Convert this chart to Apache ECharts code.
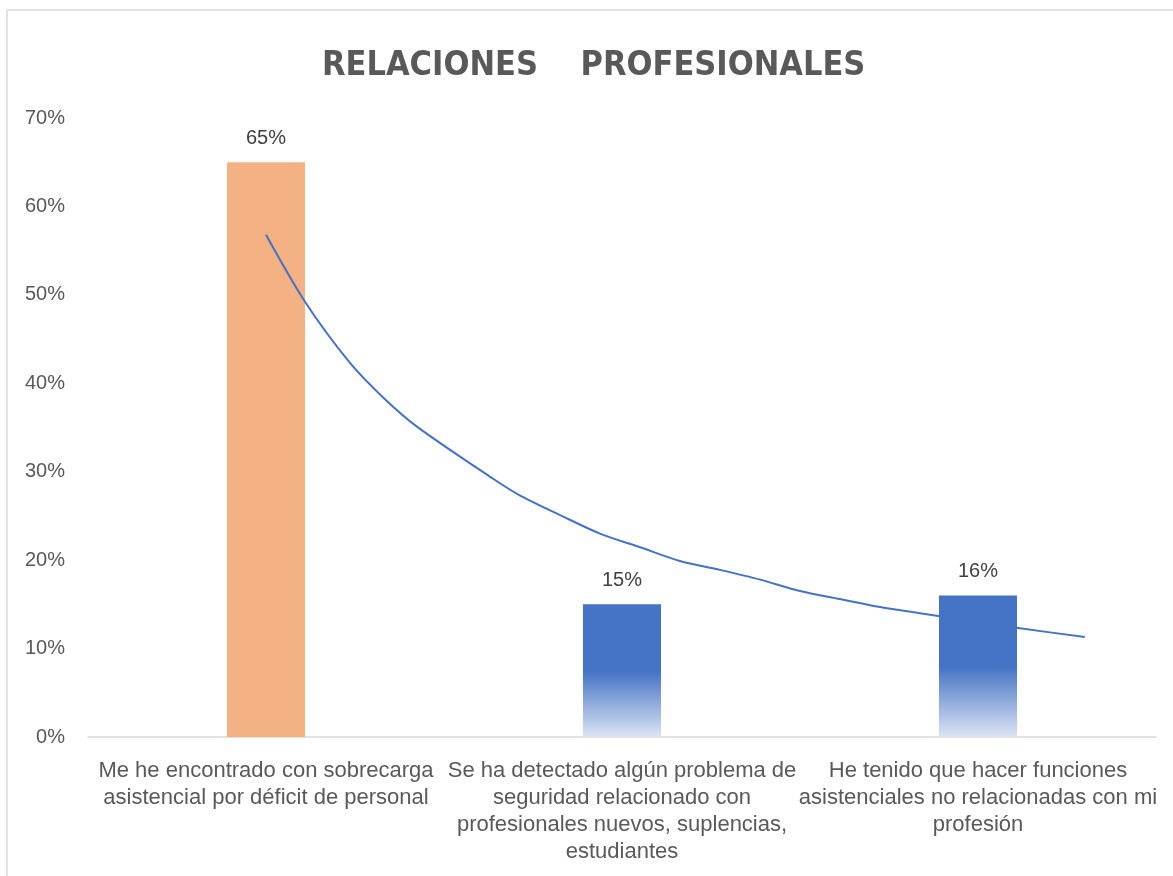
<!DOCTYPE html>
<html>
<head>
<meta charset="utf-8">
<script src="https://cdn.jsdelivr.net/npm/echarts@6/dist/echarts.min.js"></script>
<style>
html, body { margin: 0; padding: 0; background: #fff; }
#chart { width: 1173px; height: 876px; }
</style>
</head>
<body>
<div id="chart"></div>
<script>
// datos
var categorias = [
	'Me he encontrado con sobrecarga\nasistencial por déficit de personal',
	'Se ha detectado algún problema de\nseguridad relacionado con\nprofesionales nuevos, suplencias,\nestudiantes',
	'He tenido que hacer funciones\nasistenciales no relacionadas con mi\nprofesión'
];
var valores = [0.65, 0.15, 0.16];
var yTicks = [0, 0.1, 0.2, 0.3, 0.4, 0.5, 0.6, 0.7];
// linea de tendencia (x = posicion de categoria)
var tendX = [1.0, 1.11, 1.236, 1.329, 1.424, 1.638, 1.714, 1.826, 1.938, 2.051, 2.163, 2.275, 2.388, 2.5, 2.612, 2.725, 2.837, 3.118, 3.30];
var tendY = [0.568, 0.492, 0.423, 0.384, 0.351, 0.292, 0.273, 0.251, 0.230, 0.2145, 0.199, 0.189, 0.178, 0.165, 0.156, 0.147, 0.140, 0.123, 0.113];

var azul = new echarts.graphic.LinearGradient(0, 0, 0, 1, [
	{offset: 0, color: '#4472C4'},
	{offset: 0.5, color: '#4472C4'},
	{offset: 1, color: '#DCE4F4'}
]);
var coloresBarra = ['#F4B183', azul, azul];

var myChart = echarts.init(document.getElementById('chart'));
var option = {
	animation: false,
	title: {
		text: 'RELACIONES    PROFESIONALES',
		left: 317,
		top: 44,
		textStyle: {
			fontFamily: '"DejaVu Sans Condensed", "Liberation Sans"',
			fontSize: 34,
			fontWeight: 'bold',
			color: '#595959'
		}
	},
	graphic: [{
		type: 'rect',
		shape: {x: 7, y: 10, width: 1200, height: 900},
		style: {fill: 'none', stroke: '#D9D9D9', lineWidth: 1.5}
	}],
	grid: {left: 88, right: 17, top: 118, bottom: 139},
	xAxis: [{
		type: 'category',
		data: categorias,
		axisTick: {show: false},
		axisLine: {lineStyle: {color: '#D9D9D9', width: 1.5}},
		axisLabel: {
			interval: 0,
			margin: 20,
			lineHeight: 27,
			fontFamily: '"Liberation Sans"',
			fontSize: 22,
			color: '#595959'
		}
	}, {
		type: 'value',
		min: 0.5,
		max: 3.5,
		show: false
	}],
	yAxis: {
		type: 'value',
		min: 0,
		max: 0.7,
		interval: 0.1,
		splitLine: {show: false},
		axisLine: {show: false},
		axisTick: {show: false},
		axisLabel: {
			margin: 23,
			fontFamily: '"Liberation Sans"',
			fontSize: 20,
			color: '#595959',
			formatter: function (v) { return Math.round(v * 100) + '%'; }
		}
	},
	series: [{
		type: 'bar',
		barWidth: 78,
		data: valores.map(function (v, i) {
			return {value: v, itemStyle: {color: coloresBarra[i]}};
		}),
		label: {
			show: true,
			position: 'top',
			distance: 14,
			fontFamily: '"Liberation Sans"',
			fontSize: 20,
			color: '#404040',
			formatter: function (p) { return Math.round(p.value * 100) + '%'; }
		}
	}, {
		type: 'line',
		xAxisIndex: 1,
		data: tendX.map(function (x, i) { return [x, tendY[i]]; }),
		smooth: 0.3,
		showSymbol: false,
		lineStyle: {color: '#4472C4', width: 2},
		z: 3
	}]
};
myChart.setOption(option);
</script>
</body>
</html>
